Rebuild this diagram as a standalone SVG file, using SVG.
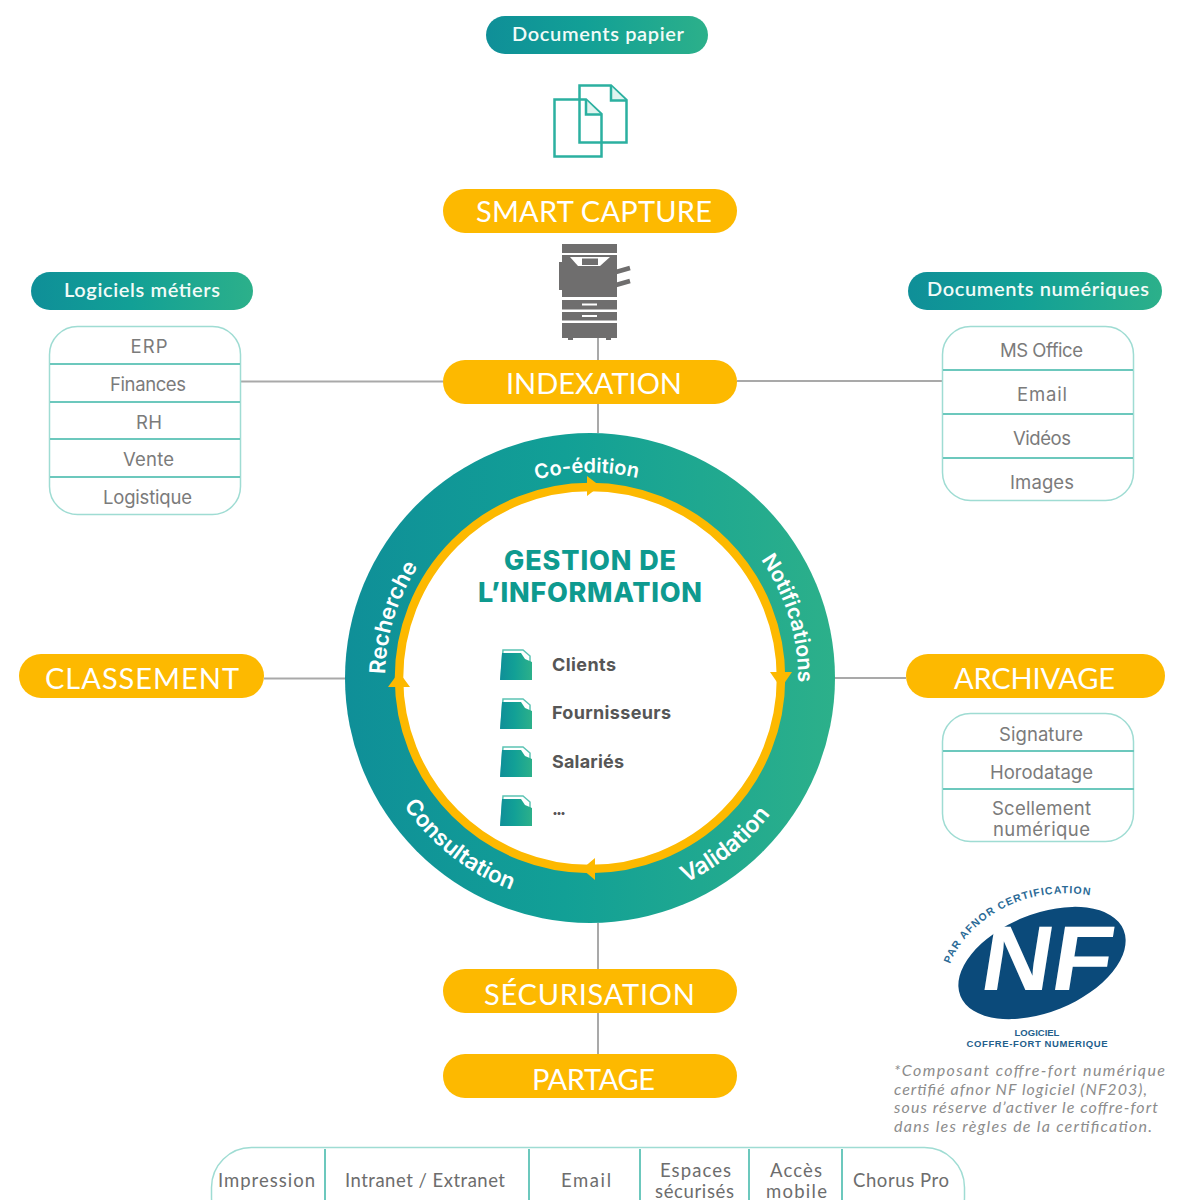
<svg xmlns="http://www.w3.org/2000/svg" width="1200" height="1200" viewBox="0 0 1200 1200">
<style>
.y{fill:#fdb900}
.yt{font:400 29px Lato,"Liberation Sans",sans-serif;fill:#fff;text-anchor:middle}
.tt{font:600 20px Lato,"Liberation Sans",sans-serif;fill:#f2fbf8;text-anchor:middle}
.box{fill:#fff;stroke:#9fdcd3;stroke-width:1.5}
.div{stroke:#6cc8bd;stroke-width:2;fill:none}
.li{font:400 18.5px Inter,"Liberation Sans",sans-serif;fill:#7b7b7b;text-anchor:middle}
.lb{font:400 18.5px Lato,"Liberation Sans",sans-serif;fill:#6d6d6d;text-anchor:middle}
.con{stroke:#a9a9a9;stroke-width:2;fill:none}
.ring{font-family:Inter,"Liberation Sans",sans-serif;font-weight:600;fill:#fff;text-anchor:middle}
.fo{font:700 18px Inter,"Liberation Sans",sans-serif;fill:#565656}
.ge{font:800 27px Inter,"Liberation Sans",sans-serif;fill:#0e9a8f;text-anchor:middle}
.note{font:italic 400 16px Lato,"Liberation Sans",sans-serif;fill:#8c8c8c}
.nfs{font:700 9.5px "Liberation Sans",sans-serif;fill:#23608c;text-anchor:middle}
.pg{fill:none;stroke:#2bb0a0;stroke-width:2.5;stroke-linejoin:miter}
.p{fill:#6f6e6e}
</style>
<defs>
<linearGradient id="g" x1="0" y1="0" x2="1" y2="0"><stop offset="0" stop-color="#0f8f98"/><stop offset=".45" stop-color="#12a096"/><stop offset="1" stop-color="#2cb08a"/></linearGradient>
<path id="a1" d="M411 577A206 206 0 0 1 766 571"/>
<path id="a2" d="M640 476A209 209 0 0 1 744 819"/>
<path id="a3" d="M440 817.800A205 205 0 0 1 543.900 478.300"/>
<path id="a4" d="M509 889A226 226 0 0 0 813.2 642.6"/>
<path id="a5" d="M366.2 646.5A226 226 0 0 0 674.7 887.5"/>
<path id="a6" d="M950 964C965 925 1020 880 1100 897"/>
<g id="folder"><path d="M2 31L4 2H24L31 8V28" fill="none" stroke="#5cc4b4" stroke-width="1.5"/><path d="M1 32L3 5H22L26 11L33 14V32Z" fill="url(#g)"/></g>
</defs>

<g id="connectors">
<path class="con" d="M598 338V360M598 404V433M598 923V969M598 1013V1054M241 381.500H443M737 381H942M264 678.500H345M835 678H906"/>
</g>

<g id="documents-papier"><rect x="486" y="16" width="222" height="38" rx="19" fill="url(#g)"/><text class="tt" x="598" y="41" textLength="172">Documents papier</text></g>
<g id="icon-documents">
<path class="pg" d="M579.500 85.500H611L626.500 100V142.500H579.500Z"/><path d="M611 86V100.500H626" fill="#dff4ef" stroke="#2bb0a0" stroke-width="2.500"/>
<path class="pg" d="M554.500 99.500H586L601.500 114V156.500H554.500Z"/><path d="M586 100V114.500H601" fill="#dff4ef" stroke="#2bb0a0" stroke-width="2.500"/>
</g>
<g id="smart-capture"><rect class="y" x="443" y="189" width="294" height="44" rx="22"/><text class="yt" x="594" y="222" textLength="236">SMART CAPTURE</text></g>
<g id="icon-printer">
<rect class="p" x="562" y="244" width="55" height="9"/>
<path class="p" d="M562 255H617V297H562Z"/><rect class="p" x="559" y="262" width="4" height="28"/>
<path d="M570 257H610L600 266H578Z" fill="#fff"/><rect class="p" x="582" y="258.500" width="16" height="6.500"/>
<path d="M616 272L630 268M616 285L630 281" stroke="#6f6e6e" stroke-width="4.500"/>
<rect class="p" x="562" y="300" width="55" height="9.500"/><rect class="p" x="562" y="312" width="55" height="8.500"/><rect class="p" x="562" y="323" width="55" height="15"/>
<rect x="582" y="303.500" width="15" height="2" fill="#fff"/><rect x="582" y="315" width="15" height="2" fill="#fff"/>
<rect class="p" x="568" y="338" width="5" height="2"/><rect class="p" x="606" y="338" width="5" height="2"/>
</g>
<g id="indexation"><rect class="y" x="443" y="360" width="294" height="44" rx="22"/><text class="yt" x="594" y="394" textLength="176">INDEXATION</text></g>

<g id="logiciels-metiers"><rect x="31" y="272" width="222" height="38" rx="19" fill="url(#g)"/><text class="tt" x="142" y="297" textLength="156">Logiciels métiers</text></g>
<g id="liste-logiciels">
<rect class="box" x="49.500" y="326.500" width="191" height="188" rx="28"/>
<path class="div" d="M50 364H240M50 402H240M50 439H240M50 477H240"/>
<text class="li" x="149" y="353" textLength="37">ERP</text><text class="li" x="148" y="391" textLength="76">Finances</text><text class="li" x="149" y="429" textLength="26">RH</text><text class="li" x="148.500" y="466" textLength="51">Vente</text><text class="li" x="147.500" y="504" textLength="89">Logistique</text>
</g>

<g id="documents-numeriques"><rect x="908" y="272" width="254" height="38" rx="19" fill="url(#g)"/><text class="tt" x="1038" y="296" textLength="222">Documents numériques</text></g>
<g id="liste-numeriques">
<rect class="box" x="942.500" y="326.500" width="191" height="174" rx="28"/>
<path class="div" d="M943 370H1133M943 414H1133M943 458H1133"/>
<text class="li" x="1041.500" y="357" textLength="83">MS Office</text><text class="li" x="1042" y="401" textLength="50">Email</text><text class="li" x="1042" y="445" textLength="58">Vidéos</text><text class="li" x="1042" y="489" textLength="64">Images</text>
</g>

<g id="classement"><rect class="y" x="19" y="654" width="245" height="44" rx="22"/><text class="yt" x="142" y="689" textLength="194">CLASSEMENT</text></g>
<g id="archivage"><rect class="y" x="906" y="654" width="259" height="44" rx="22"/><text class="yt" x="1034.500" y="689" textLength="161">ARCHIVAGE</text></g>
<g id="liste-archivage">
<rect class="box" x="942.500" y="713.500" width="191" height="128" rx="28"/>
<path class="div" d="M943 751H1134M943 789H1134"/>
<text class="li" x="1041" y="741" textLength="84">Signature</text><text class="li" x="1041.500" y="779" textLength="103">Horodatage</text><text class="li" x="1041.500" y="815" textLength="99">Scellement</text><text class="li" x="1041.500" y="836" textLength="97">numérique</text>
</g>

<g id="gestion-information">
<circle cx="590" cy="678" r="245" fill="url(#g)"/>
<circle cx="590" cy="678" r="191" fill="#fff" stroke="#fdb900" stroke-width="8.500"/>
<path class="y" d="M587 476L600 486L587 496ZM770 672H792L781 688ZM595 858V880L582 869ZM388 687H410L399 672Z"/>
<text class="ring" font-size="20"><textPath href="#a1" startOffset="50%">Co-édition</textPath></text>
<text class="ring" font-size="21"><textPath href="#a2" startOffset="50%">Notifications</textPath></text>
<text class="ring" font-size="22"><textPath href="#a3" startOffset="50%">Recherche</textPath></text>
<text class="ring" font-size="23"><textPath href="#a4" startOffset="50%">Validation</textPath></text>
<text class="ring" font-size="22.500"><textPath href="#a5" startOffset="50%">Consultation</textPath></text>
<text class="ge" x="590" y="570" textLength="172">GESTION DE</text>
<text class="ge" x="590" y="602" textLength="224">L’INFORMATION</text>
<use href="#folder" x="499" y="648"/><text class="fo" x="552" y="671" textLength="64">Clients</text>
<use href="#folder" x="499" y="697"/><text class="fo" x="552" y="719" textLength="119">Fournisseurs</text>
<use href="#folder" x="499" y="745"/><text class="fo" x="552" y="768" textLength="72">Salariés</text>
<use href="#folder" x="499" y="794"/><text class="fo" x="552" y="815" textLength="14">...</text>
</g>

<g id="securisation"><rect class="y" x="443" y="969" width="294" height="44" rx="22"/><text class="yt" x="589.500" y="1005" textLength="211">SÉCURISATION</text></g>
<g id="partage"><rect class="y" x="443" y="1054" width="294" height="44" rx="22"/><text class="yt" x="593.500" y="1090" textLength="123">PARTAGE</text></g>

<g id="canaux">
<rect class="box" x="211.500" y="1147.500" width="753" height="90" rx="40"/>
<path class="div" stroke-width="1.500" d="M325 1149V1200M529 1149V1200M640 1149V1200M749 1149V1200M842 1149V1200"/>
<text class="lb" x="266.500" y="1187" textLength="97">Impression</text>
<text class="lb" x="425" y="1187" textLength="160">Intranet / Extranet</text>
<text class="lb" x="586" y="1187" textLength="50">Email</text>
<text class="lb" x="695.500" y="1177" textLength="71">Espaces</text><text class="lb" x="694.500" y="1198" textLength="79">sécurisés</text>
<text class="lb" x="796" y="1177" textLength="52">Accès</text><text class="lb" x="796.500" y="1198" textLength="61">mobile</text>
<text class="lb" x="901" y="1187" textLength="96">Chorus Pro</text>
</g>

<g id="logo-nf">
<ellipse cx="1042" cy="963" rx="88" ry="49" transform="rotate(-22 1042 963)" fill="#0b4a7a"/>
<text transform="translate(1043 990) skewX(-9)" text-anchor="middle" style="font:700 92px 'Liberation Sans',sans-serif;fill:#fff" textLength="130" lengthAdjust="spacingAndGlyphs">NF</text>
<text textLength="168" style="font:700 10.500px 'Liberation Sans',sans-serif;fill:#2a6a96"><textPath href="#a6">PAR AFNOR CERTIFICATION</textPath></text>
<text class="nfs" x="1037" y="1036">LOGICIEL</text><text class="nfs" x="1037" y="1047" textLength="141">COFFRE-FORT NUMERIQUE</text>
</g>
<g id="note">
<text class="note" x="894" y="1076" textLength="271">*Composant coffre-fort numérique</text>
<text class="note" x="894" y="1095" textLength="253">certifié afnor NF logiciel (NF203),</text>
<text class="note" x="894" y="1113" textLength="264">sous réserve d’activer le coffre-fort</text>
<text class="note" x="894" y="1132" textLength="258">dans les règles de la certification.</text>
</g>
</svg>
